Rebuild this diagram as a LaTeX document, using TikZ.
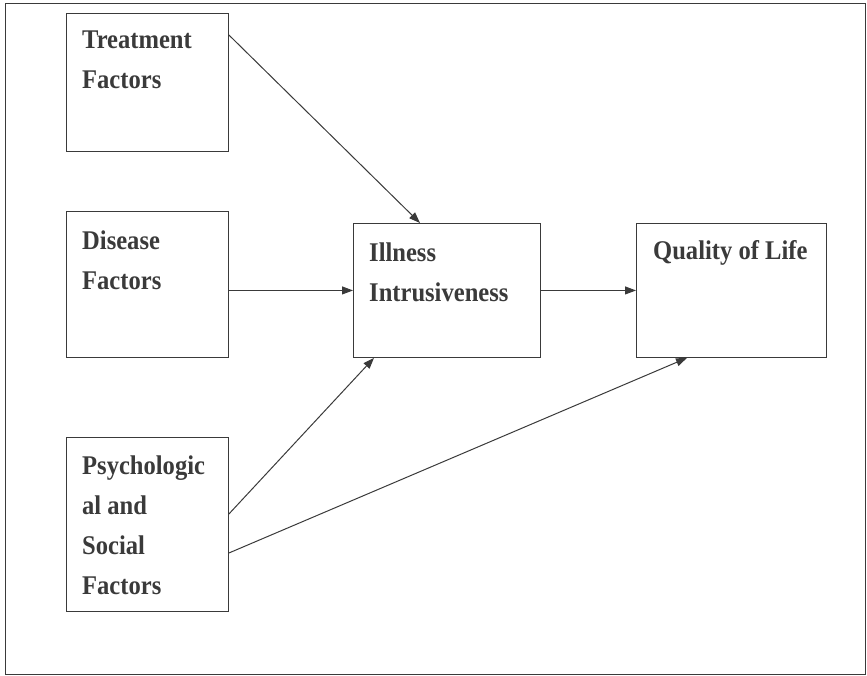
\documentclass[tikz,border=0pt]{standalone}
\usepackage{fontspec}
\setmainfont{Liberation Serif}[FakeStretch=0.91]
\usepackage{tikz}
\usetikzlibrary{calc}
\usetikzlibrary{positioning}
\usetikzlibrary{arrows.meta}

\definecolor{ink}{HTML}{3A3A3A}

\begin{document}
\begin{tikzpicture}[x=1pt, y=-1pt,
        box/.style={rectangle, draw=ink, line width=0.9pt, anchor=north west, inner sep=0pt},
        txt/.style={anchor=north west, inner sep=0pt, align=left, text=ink,
            font=\fontsize{27}{40}\selectfont\bfseries},
        link/.style={draw=ink, line width=1pt, -{Triangle[length=11pt, width=8pt]}}]
            \useasboundingbox (0, 0) rectangle (867, 676);
            \draw[draw=ink, line width=1pt] (5, 4) rectangle (865, 674);

            % boxes
            \node[box, minimum width=162pt, minimum height=138pt] (treat) at (66, 13) {};
            \node[box, minimum width=162pt, minimum height=146pt] (disease) at (66, 211) {};
            \node[box, minimum width=162pt, minimum height=174pt] (psych) at (66, 437) {};
            \node[box, minimum width=187pt, minimum height=134pt] (illness) at (353, 223) {};
            \node[box, minimum width=190pt, minimum height=134pt] (qol) at (636, 223) {};

            % texts
            \node[txt, below right=18pt and 16pt of treat.north west] (treatTxt) {Treatment\\Factors};
            \node[txt, below right=20pt and 16pt of disease.north west] (diseaseTxt) {Disease\\Factors};
            \node[txt, below right=19pt and 16pt of psych.north west] (psychTxt) {Psychologic\\al and\\Social\\Factors};
            \node[txt, below right=20pt and 16pt of illness.north west] (illnessTxt) {Illness\\Intrusiveness};
            \node[txt, below right=17pt and 17pt of qol.north west] (qolTxt) {Quality of Life};

            % arrows
            \draw[link] ($(treat.north east) + (0, 22)$) -- ($(illness.north west) + (67, 0)$);
            \draw[link] (disease.east |- illness.west) -- (illness.west);
            \draw[link] (illness.east) -- (qol.west);
            \draw[link] ($(psych.north east) + (0, 77)$) -- ($(illness.south west) + (21, 0)$);
            \draw[link] ($(psych.north east) + (0, 116)$) -- ($(qol.south west) + (51, 0)$);
        \end{tikzpicture}
\end{document}
